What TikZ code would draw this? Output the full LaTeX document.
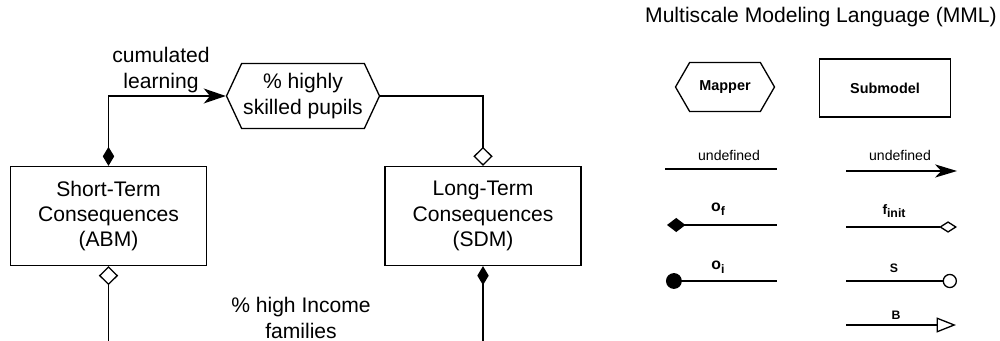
\documentclass[tikz,border=0pt]{standalone}
\usepackage{fontspec}
\setmainfont{Liberation Sans}
\usetikzlibrary{arrows.meta,shapes.symbols}
\tikzset{
	submodel/.style={rectangle,draw,line width=0.75pt,align=center,inner sep=0pt},
	mapper/.style={signal,signal to=east and west,draw,line width=0.75pt,align=center,inner sep=0pt},
	bigtext/.style={font=\fontsize{12pt}{14.4pt}\selectfont,align=center},
	smalltext/.style={font=\fontsize{8pt}{9.6pt}\selectfont},
	boldtext/.style={font=\fontsize{8.2pt}{9.6pt}\selectfont\bfseries},
	symtext/.style={font=\fontsize{7pt}{8.4pt}\selectfont\bfseries},
	link/.style={line width=0.75pt},
}
\newcommand{\lowsub}[1]{\raisebox{-0.45ex}{\fontsize{7pt}{8pt}\selectfont #1}}
\begin{document}
\begin{tikzpicture}
		\useasboundingbox (0,0) rectangle (20,6.82);

		\node at (6.06,  4.90) [mapper,bigtext,minimum width=3.06cm,minimum height=1.30cm,signal pointer angle=130] (skilled) {\% highly\\skilled pupils};
		\node at (2.17,  2.50) [submodel,bigtext,minimum width=3.92cm,minimum height=1.98cm] (abm) {Short-Term\\Consequences\\(ABM)};
		\node at (9.66,  2.50) [submodel,bigtext,minimum width=3.92cm,minimum height=1.98cm] (sdm) {Long-Term\\Consequences\\(SDM)};
		\node at (3.22,  5.42) [bigtext] (learning) {cumulated\\learning};
		\node at (6.02,  0.46) [bigtext] (income)   {\% high Income\\families};
		\coordinate (abm_out) at (2.17, 0);
		\coordinate (sdm_out) at (9.66, 0);

		\draw[link,{Diamond[length=10.8pt,width=6.5pt]}-{Stealth[length=12.5pt,width=8.5pt,inset=3.5pt]}] (abm.north) |- (skilled.west);
		\draw[link,-{Diamond[open,length=10.8pt,width=11pt]}] (skilled.east) -| (sdm.north);
		\draw[link,{Diamond[open,length=10.8pt,width=11pt]}-] (abm.south) -- (abm_out);
		\draw[link,{Diamond[length=10.8pt,width=6.5pt]}-] (sdm.south) -- (sdm_out);

		\node at (16.42, 6.48) [bigtext] (mml_title) {Multiscale Modeling Language (MML)};
		\node at (14.50, 5.08) [mapper,boldtext,minimum width=1.98cm,minimum height=0.98cm,signal pointer angle=120] (mapper) {Mapper};
		\node at (17.70, 5.06) [submodel,boldtext,minimum width=2.62cm,minimum height=1.16cm] (submodel) {Submodel};

		\coordinate (undef_a) at (13.30, 3.44);
		\coordinate (undef_b) at (15.54, 3.44);
		\coordinate (arrow_a) at (16.92, 3.40);
		\coordinate (arrow_b) at (19.14, 3.40);
		\coordinate (of_a)    at (13.34, 2.32);
		\coordinate (of_b)    at (15.54, 2.32);
		\coordinate (finit_a) at (16.92, 2.28);
		\coordinate (finit_b) at (19.14, 2.28);
		\coordinate (oi_a)    at (13.32, 1.20);
		\coordinate (oi_b)    at (15.54, 1.20);
		\coordinate (s_a)     at (16.92, 1.20);
		\coordinate (s_b)     at (19.14, 1.20);
		\coordinate (b_a)     at (16.92, 0.32);
		\coordinate (b_b)     at (19.12, 0.32);

		\node at (14.58, 3.72) [smalltext] (undef_lbl) {undefined};
		\node at (18.00, 3.72) [smalltext] (arrow_lbl) {undefined};
		\node at (14.36, 2.64) [font=\fontsize{9pt}{10pt}\selectfont\bfseries] (of_lbl)    {o\lowsub{f}};
		\node at (17.88, 2.60) [font=\fontsize{7.8pt}{9pt}\selectfont\bfseries] (finit_lbl) {f\lowsub{init}};
		\node at (14.36, 1.48) [font=\fontsize{9pt}{10pt}\selectfont\bfseries] (oi_lbl)    {o\lowsub{i}};
		\node at (17.88, 1.46) [symtext] (s_lbl)     {S};
		\node at (17.92, 0.52) [symtext] (b_lbl)     {B};

		\draw[link] (undef_a) -- (undef_b);
		\draw[link,-{Stealth[length=12.5pt,width=7.5pt,inset=3.5pt]}] (arrow_a) -- (arrow_b);
		\draw[link,{Diamond[length=10.5pt,width=8pt]}-] (of_a) -- (of_b);
		\draw[link,-{Diamond[open,length=10.2pt,width=6.5pt]}] (finit_a) -- (finit_b);
		\draw[link,{Circle[length=9pt]}-] (oi_a) -- (oi_b);
		\draw[link,-{Circle[open,length=8.2pt]}] (s_a) -- (s_b);
		\draw[link,-{Triangle[open,length=11pt,width=8.5pt]}] (b_a) -- (b_b);
	\end{tikzpicture}
\end{document}
